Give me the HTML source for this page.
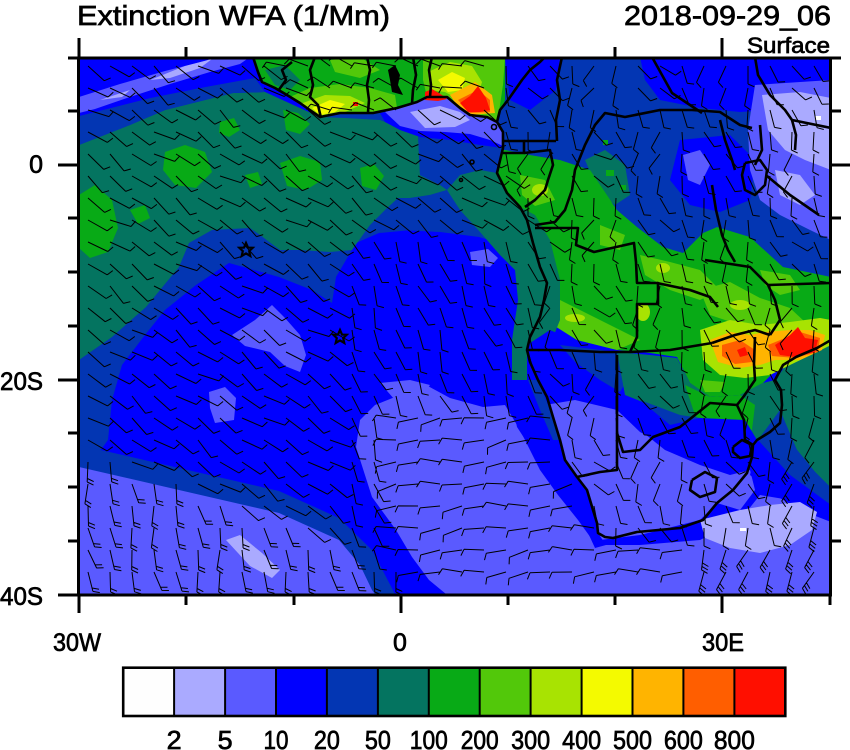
<!DOCTYPE html>
<html><head><meta charset="utf-8">
<style>
html,body{margin:0;padding:0;background:#fff;}
svg{display:block;font-family:"Liberation Sans",Arial,sans-serif;}
</style></head>
<body>
<svg id="s" width="850" height="750" viewBox="0 0 850 750" xmlns="http://www.w3.org/2000/svg">
<defs><clipPath id="clip"><rect x="79" y="57" width="752" height="537"/></clipPath></defs>
<rect width="850" height="750" fill="#fff"/>
<g clip-path="url(#clip)">
<rect x="79" y="57" width="752" height="537" fill="#0000FF"/>
<polygon fill="#0336B3" points="79,118 500,110 530,230 520,250 505,245 479,237 440,232 412,230 379,233 356,243 336,277 332,303 312,290 279,277 229,263 196,285 165,310 145,335 122,365 112,400 108,440 95,458 79,465"/>
<polygon fill="#047460" points="79,145 130,125 165,110 233,93 265,92 300,108 320,117 345,118 380,120 400,128 418,135 420,175 440,185 447,190 430,195 410,198 398,198 385,210 370,225 352,250 330,252 300,250 280,250 260,235 250,228 212,230 189,243 179,267 146,307 112,337 79,360"/>
<g fill="#08AA16">
<polygon points="79,195 95,185 112,200 118,228 108,252 90,258 79,248"/>
<polygon points="165,152 185,145 205,152 212,172 196,188 175,185 163,170"/>
<polygon points="280,163 300,156 320,162 322,180 306,190 287,186"/>
<polygon points="283,110 298,113 310,124 300,134 286,130"/>
<polygon points="360,168 374,164 384,176 376,190 362,186"/>
<polygon points="220,122 234,118 240,130 229,137 219,133"/>
<polygon points="130,210 145,205 150,218 138,224"/>
<polygon points="245,175 258,172 262,184 250,188"/>
</g>
<polygon fill="#0336B3" points="79,116 150,98 200,88 255,78 265,92 233,93 165,110 130,125 79,145"/>
<polygon fill="#0000FF" points="79,57 255,57 258,72 240,80 200,88 150,98 79,116"/>
<polygon fill="#5A5AFF" points="79,97 120,84 165,71 205,61 215,57 250,57 240,64 210,72 170,84 130,97 95,109 79,113"/>
<polygon fill="#AAAAFF" points="150,80 185,66 212,59 200,68 170,78"/>
<polygon fill="#AAAAFF" points="100,100 130,90 122,97"/>
<polygon fill="#0336B3" points="418,133 500,138 500,152 480,168 460,175 440,185 420,175"/>
<polygon fill="#0336B3" points="398,198 410,198 430,195 447,190 460,210 475,232 440,232 400,230 385,215"/>
<polygon fill="#0000FF" points="380,113 400,110 440,110 497,122 503,148 480,145 450,140 420,137 400,130 385,122"/>
<polygon fill="#5A5AFF" points="385,112 397,108 417,102 427,97 447,97 460,108 470,115 487,117 497,122 503,132 503,146 490,140 470,134 445,132 420,131 400,126"/>
<polygon fill="#AAAAFF" points="410,112 440,106 460,112 470,120 455,127 425,128"/>
<polygon fill="#5A5AFF" points="232,335 255,320 272,305 285,318 300,335 306,355 300,372 285,366 270,352 245,346"/>
<polygon fill="#5A5AFF" points="209,392 225,387 236,398 234,420 215,423 210,408"/>
<polygon fill="#5A5AFF" points="470,252 488,249 498,258 490,267 472,265"/>
<polygon fill="#5A5AFF" points="380,383 410,380 430,385 420,398 395,400"/>
<polygon fill="#0336B3" points="79,445 179,468 279,491 339,518 372,550 395,594 79,594"/>
<polygon fill="#5A5AFF" points="79,467 179,490 279,513 339,540 360,565 372,590 375,594 79,594"/>
<polygon fill="#AAAAFF" points="226,540 240,535 262,553 280,570 272,578 250,566"/>
<polygon fill="#5A5AFF" points="356,447 360,420 375,405 400,395 426,385 450,398 483,407 505,405 520,430 540,470 558,495 578,520 596,545 640,545 700,540 740,520 760,495 790,500 831,520 831,594 446,594 429,580 412,557 396,530 372,497"/>
<polygon fill="#0336B3" points="500,57 831,57 831,280 783,267 750,237 717,227 703,233 683,253 663,247 637,227 617,210 590,170 560,160 530,155 505,150 500,122"/>
<polygon fill="#0000FF" points="640,57 831,57 831,90 770,110 740,112 700,108 660,100 645,80"/>
<polygon fill="#0000FF" points="680,140 730,135 755,160 750,200 720,212 690,205 670,180"/>
<polygon fill="#0000FF" points="505,57 560,57 556,90 530,110 510,100"/>
<polygon fill="#5A5AFF" points="683,155 700,150 710,165 700,185 688,180"/>
<polygon fill="#5A5AFF" points="755,85 831,80 831,240 810,230 780,215 760,200 750,170 748,130"/>
<polygon fill="#AAAAFF" points="762,95 800,92 831,98 831,170 805,160 785,150 768,130"/>
<polygon fill="#AAAAFF" points="775,170 800,175 815,195 800,205 780,195"/>
<polygon fill="#047460" points="585,160 605,150 625,165 630,195 615,205 598,190"/>
<g fill="#08AA16">
<rect x="606" y="170" width="8" height="6"/><rect x="620" y="185" width="6" height="5"/><rect x="603" y="140" width="5" height="5"/>
</g>
<polygon fill="#08AA16" points="253,57 505,57 505,100 497,122 487,117 470,115 460,108 447,97 427,97 417,102 397,108 373,113 340,113 320,117 307,108 287,95 262,82"/>
<polygon fill="#047460" points="265,70 285,65 300,80 290,90 275,85"/>
<polygon fill="#52C80A" points="290,97 310,88 340,84 370,88 395,95 397,108 373,113 340,113 320,117 307,108"/>
<polygon fill="#52C80A" points="330,60 360,57 380,70 360,78 335,72"/>
<polygon fill="#A8E302" points="300,104 325,95 350,96 365,103 345,112 320,116"/>
<polygon fill="#F4FA00" points="312,108 330,100 345,104 335,112 320,115"/>
<rect x="353" y="102" width="5" height="4" fill="#FF0F00"/>
<polygon fill="#52C80A" points="423,57 505,57 503,85 500,105 497,122 487,117 470,115 460,108 447,97 427,97 423,80"/>
<polygon fill="#A8E302" points="428,72 450,62 472,66 482,82 478,96 460,100 445,92 430,90"/>
<polygon fill="#F4FA00" points="438,80 452,72 465,78 462,90 448,92"/>
<polygon fill="#FFB400" points="450,95 475,82 492,95 495,113 470,115 458,107"/>
<polygon fill="#FF5E00" points="458,100 478,90 490,100 490,112 470,113"/>
<polygon fill="#FF0F00" points="425,92 432,89 442,95 447,99 438,101 425,100"/>
<polygon fill="#FF0F00" points="460,103 470,96 478,86 486,98 490,110 480,112 468,112"/>
<polygon fill="#08AA16" points="505,150 530,155 560,160 590,170 617,210 637,227 663,247 683,253 703,233 717,227 750,237 783,267 831,277 831,340 817,348 783,363 763,383 740,395 710,397 690,383 677,357 650,353 617,350 577,340 550,323 540,300 540,267 533,243 527,220 520,207 507,193 497,173 503,150"/>
<g fill="#52C80A">
<polygon points="540,300 560,300 590,315 620,330 640,340 617,350 577,340 550,323"/>
<polygon points="640,255 670,262 700,270 720,290 700,300 670,290 645,275"/>
<polygon points="700,290 730,282 760,298 790,308 805,322 770,330 740,325 710,315"/>
<polygon points="520,175 545,180 555,200 535,206 522,195"/>
<polygon points="600,225 625,235 620,250 600,245"/>
<polygon points="760,270 790,275 800,290 780,295 765,285"/>
</g>
<g fill="#A8E302">
<ellipse cx="643" cy="312" rx="7" ry="9"/>
<ellipse cx="663" cy="268" rx="7" ry="5"/>
<ellipse cx="540" cy="190" rx="8" ry="6"/>
<ellipse cx="575" cy="318" rx="10" ry="4"/>
<ellipse cx="740" cy="305" rx="10" ry="5"/>
</g>
<polygon fill="#047460" points="520,207 535,215 550,240 560,280 560,320 550,345 535,360 532,385 512,385 512,340 518,300 515,270 500,255 480,232 460,210 447,190 460,175 480,170 497,173 507,193"/>
<polygon fill="#0000FF" points="527,345 550,330 577,342 617,352 630,375 620,400 590,405 560,405 538,385 527,383"/>
<polygon fill="#0336B3" points="560,345 617,352 630,375 620,392 600,380 575,362"/>
<polygon fill="#047460" points="617,352 650,355 677,358 690,383 710,397 740,395 763,383 775,380 780,400 780,420 757,440 740,440 710,430 680,420 650,405 625,395"/>
<polygon fill="#08AA16" points="685,385 710,397 740,395 755,405 752,430 730,440 710,432 695,415"/>
<polygon fill="#52C80A" points="700,380 725,382 720,392 705,392"/>
<polygon fill="#5A5AFF" points="545,405 575,400 617,410 640,430 665,450 700,465 730,475 750,470 755,490 740,510 717,503 700,520 640,535 600,540 580,510 560,470 550,430"/>
<polygon fill="#0000FF" points="617,410 660,420 700,418 745,420 757,440 752,460 735,470 700,460 670,448 640,432"/>
<polygon fill="#0336B3" points="640,400 680,415 700,418 670,425"/>
<polygon fill="#0000FF" points="507,380 538,380 553,417 560,440 565,460 577,477 587,490 593,510 598,533 606,545 595,548 583,522 565,500 545,470 517,427"/>
<polygon fill="#0336B3" points="528,380 538,380 553,417 560,440 553,440 540,410"/>
<polygon fill="#047460" points="775,380 790,360 817,348 831,340 831,488 815,472 797,450 785,430 780,410"/>
<polygon fill="#0336B3" points="780,410 797,450 815,472 831,488 831,505 810,492 790,475 770,455 758,440"/>
<polygon fill="#0000FF" points="758,440 790,475 831,505 831,522 800,510 770,492 750,475"/>
<polygon fill="#AAAAFF" points="700,520 740,510 770,505 800,502 817,512 812,530 790,545 760,553 730,548 705,538"/>
<rect x="740" y="528" width="6" height="3" fill="#fff"/>
<rect x="815" y="116" width="6" height="4" fill="#fff"/>
<polygon fill="#A8E302" points="700,330 730,320 760,325 790,322 820,318 831,320 831,345 817,352 790,365 770,375 745,378 720,375 703,360"/>
<polygon fill="#FFB400" points="710,340 730,332 750,335 765,332 790,330 810,330 825,335 822,350 800,360 775,360 760,365 740,368 718,362"/>
<polygon fill="#FF5E00" points="722,345 740,340 755,350 752,362 735,364 722,356"/>
<polygon fill="#FF5E00" points="768,345 800,332 820,338 818,352 795,358 772,356"/>
<polygon fill="#FF0F00" points="775,345 790,335 798,327 805,338 818,340 815,352 795,357 780,355"/>
<polygon fill="#FF0F00" points="737,350 745,347 748,355 740,357"/>
<g fill="none" stroke="#000" stroke-width="2.6" stroke-linejoin="round">
<polyline points="253,57 258,72 262,82 275,88 287,95 300,103 307,108 320,117 340,113 373,113 397,108 417,102 427,97 447,97 460,108 470,115 487,117 497,122 503,132 503,148 497,173 507,193 520,207 527,220 533,243 540,267 547,283 544,300 540,317 530,337 527,350 530,362 538,380 547,397 553,417 560,440 565,460 577,477 587,490 593,510 597,523 598,533 605,537 613,538 637,532 680,528 703,520 717,503 733,490 747,473 752,457 753,445 757,440 770,432 780,423 782,405 781,390 775,380 783,365 796,357 817,348 831,340"/>
<polyline points="321,118 318,105 310,97 313,85 310,70 315,57"/>
<polyline points="278,91 286,80 282,70 292,62"/>
<polyline points="368,112 369,100 367,85 370,70 367,57"/>
<polyline points="412,104 413,90 416,75 413,57"/>
<polyline points="430,97 431,85 429,70 432,57"/>
<polyline points="497,122 500,110 508,100 515,90 522,80 530,70 540,62 545,57"/>
<polyline points="503,141 524,141 524,153 503,153"/>
<polyline points="524,141 545,141 556,141"/>
<polyline points="524,153 550,150 553,165 548,180 545,190 535,200 525,207"/>
<polyline points="535,225 555,222 565,210 572,190 575,170 585,145 595,125 605,113 625,117 660,110 692,110 720,112 740,125 752,128"/>
<polyline points="562,57 557,80 560,100 556,120 557,141"/>
<polyline points="652,57 672,93 702,113"/>
<polyline points="755,57 758,75 770,95 785,110 792,120 831,128"/>
<polyline points="792,120 796,135 795,150"/>
<polyline points="760,125 762,150 755,165"/>
<polyline points="745,163 760,160 767,170 765,185 755,195 745,190 742,175 745,163"/>
<polyline points="767,176 790,195 819,215"/>
<polyline points="720,120 725,140 732,160 735,170"/>
<polyline points="712,185 716,210 722,235 728,250 735,262"/>
<polyline points="535,228 578,228 576,245 594,252 634,243 636,262 637,283 658,283 658,304 637,304 637,337 630,352"/>
<polyline points="527,350 560,350 600,352 630,352 670,350 700,345 712,343"/>
<polyline points="657,283 690,290 710,297 718,307"/>
<polyline points="705,260 750,267 768,285 775,300 780,320 770,335"/>
<polyline points="768,285 831,283"/>
<polyline points="712,343 735,335 755,330 770,335"/>
<polyline points="755,337 754,364 755,380 744,396 737,405"/>
<polyline points="617,355 617,400 617,433"/>
<polyline points="617,433 623,452 640,450 653,437 680,427 710,403 737,405"/>
<polyline points="577,477 600,472 617,470 617,433"/>
<polyline points="692,480 705,472 717,478 715,492 700,497 690,490 692,480"/>
<polyline points="733,447 742,440 752,445 750,456 740,458 733,452 733,447"/>
<polyline points="737,405 744,420 745,440"/>
<polyline points="753,445 745,440"/>
</g>
<polygon fill="#000" points="388,70 395,65 400,75 398,85 403,95 392,92 390,80"/>
<g fill="none" stroke="#000" stroke-width="1.6">
<circle cx="494" cy="127" r="2.5"/><circle cx="472" cy="162" r="2"/><circle cx="461" cy="180" r="1.5"/>
</g>
<g id="barbs"><path id="bp" d="" fill="none" stroke="#000" stroke-width="1"/></g>
<g fill="none" stroke="#000" stroke-width="2.2" stroke-linejoin="miter">
<polygon points="246.0,243.0 248.0,247.6 252.7,247.8 249.2,251.1 250.3,256.0 246.0,253.4 241.7,256.0 242.8,251.1 239.3,247.8 244.0,247.6"/>
<polygon points="340.0,330.0 342.0,334.6 346.7,334.8 343.2,338.1 344.3,343.0 340.0,340.4 335.7,343.0 336.8,338.1 333.3,334.8 338.0,334.6"/>
</g>
</g>
<rect x="78.5" y="58" width="752" height="537" fill="none" stroke="#000" stroke-width="3"/>
<g stroke="#000" stroke-width="3">
<line x1="79" y1="57" x2="79" y2="38"/><line x1="401" y1="57" x2="401" y2="38"/><line x1="722" y1="57" x2="722" y2="38"/>
<line x1="186" y1="57" x2="186" y2="47"/><line x1="294" y1="57" x2="294" y2="47"/><line x1="508" y1="57" x2="508" y2="47"/><line x1="615" y1="57" x2="615" y2="47"/>
<line x1="79" y1="595" x2="79" y2="613"/><line x1="401" y1="595" x2="401" y2="613"/><line x1="722" y1="595" x2="722" y2="613"/>
<line x1="186" y1="595" x2="186" y2="605"/><line x1="294" y1="595" x2="294" y2="605"/><line x1="508" y1="595" x2="508" y2="605"/><line x1="615" y1="595" x2="615" y2="605"/><line x1="830" y1="595" x2="830" y2="605"/>
<line x1="79" y1="165" x2="58" y2="165"/><line x1="79" y1="380" x2="58" y2="380"/><line x1="79" y1="595" x2="58" y2="595"/>
<line x1="79" y1="58" x2="68" y2="58"/><line x1="79" y1="111" x2="68" y2="111"/><line x1="79" y1="218" x2="68" y2="218"/><line x1="79" y1="272" x2="68" y2="272"/><line x1="79" y1="326" x2="68" y2="326"/><line x1="79" y1="433" x2="68" y2="433"/><line x1="79" y1="487" x2="68" y2="487"/><line x1="79" y1="541" x2="68" y2="541"/>
<line x1="830" y1="165" x2="850" y2="165"/><line x1="830" y1="380" x2="850" y2="380"/>
<line x1="830" y1="58" x2="841" y2="58"/><line x1="830" y1="111" x2="841" y2="111"/><line x1="830" y1="218" x2="841" y2="218"/><line x1="830" y1="272" x2="841" y2="272"/><line x1="830" y1="326" x2="841" y2="326"/><line x1="830" y1="433" x2="841" y2="433"/><line x1="830" y1="487" x2="841" y2="487"/><line x1="830" y1="541" x2="841" y2="541"/>
</g>
<g stroke="#000" stroke-width="0.7">
<text x="77" y="25" font-size="28" textLength="313" lengthAdjust="spacingAndGlyphs">Extinction WFA (1/Mm)</text>
<text x="624" y="25" font-size="28" textLength="207" lengthAdjust="spacingAndGlyphs">2018-09-29_06</text>
<text x="747" y="53" font-size="22" textLength="83" lengthAdjust="spacingAndGlyphs">Surface</text>
</g>
<g font-size="25" stroke="#000" stroke-width="0.7">
<text x="43" y="173" text-anchor="end">0</text>
<text x="43" y="390" text-anchor="end" textLength="43" lengthAdjust="spacingAndGlyphs">20S</text>
<text x="43" y="605" text-anchor="end" textLength="43" lengthAdjust="spacingAndGlyphs">40S</text>
<text x="53" y="651" textLength="48" lengthAdjust="spacingAndGlyphs">30W</text>
<text x="400" y="651" text-anchor="middle">0</text>
<text x="702" y="651" textLength="42" lengthAdjust="spacingAndGlyphs">30E</text>
</g>
<g stroke="none">
<rect x="123.2" y="667.7" width="50.93" height="48.3" fill="#FEFEFE"/>
<rect x="174.1" y="667.7" width="50.93" height="48.3" fill="#AAAAFF"/>
<rect x="225.1" y="667.7" width="50.93" height="48.3" fill="#5A5AFF"/>
<rect x="276.0" y="667.7" width="50.93" height="48.3" fill="#0000FF"/>
<rect x="326.9" y="667.7" width="50.93" height="48.3" fill="#0336B3"/>
<rect x="377.9" y="667.7" width="50.93" height="48.3" fill="#047460"/>
<rect x="428.8" y="667.7" width="50.93" height="48.3" fill="#08AA16"/>
<rect x="479.7" y="667.7" width="50.93" height="48.3" fill="#52C80A"/>
<rect x="530.6" y="667.7" width="50.93" height="48.3" fill="#A8E302"/>
<rect x="581.6" y="667.7" width="50.93" height="48.3" fill="#F4FA00"/>
<rect x="632.5" y="667.7" width="50.93" height="48.3" fill="#FFB400"/>
<rect x="683.4" y="667.7" width="50.93" height="48.3" fill="#FF5E00"/>
<rect x="734.4" y="667.7" width="50.93" height="48.3" fill="#FF0F00"/>
</g>
<g stroke="#000" stroke-width="2">
<line x1="174.1" y1="668" x2="174.1" y2="716"/><line x1="225.1" y1="668" x2="225.1" y2="716"/><line x1="276.0" y1="668" x2="276.0" y2="716"/><line x1="326.9" y1="668" x2="326.9" y2="716"/><line x1="377.9" y1="668" x2="377.9" y2="716"/><line x1="428.8" y1="668" x2="428.8" y2="716"/><line x1="479.7" y1="668" x2="479.7" y2="716"/><line x1="530.6" y1="668" x2="530.6" y2="716"/><line x1="581.6" y1="668" x2="581.6" y2="716"/><line x1="632.5" y1="668" x2="632.5" y2="716"/><line x1="683.4" y1="668" x2="683.4" y2="716"/><line x1="734.4" y1="668" x2="734.4" y2="716"/>
</g>
<rect x="123.2" y="667.7" width="662.1" height="48.3" fill="none" stroke="#000" stroke-width="2.6"/>
<g font-size="26" text-anchor="middle" stroke="#000" stroke-width="0.7">
<text x="174.1" y="749" textLength="15" lengthAdjust="spacingAndGlyphs">2</text>
<text x="225.1" y="749" textLength="15" lengthAdjust="spacingAndGlyphs">5</text>
<text x="276.0" y="749" textLength="25" lengthAdjust="spacingAndGlyphs">10</text>
<text x="326.9" y="749" textLength="26" lengthAdjust="spacingAndGlyphs">20</text>
<text x="377.9" y="749" textLength="26" lengthAdjust="spacingAndGlyphs">50</text>
<text x="428.8" y="749" textLength="38" lengthAdjust="spacingAndGlyphs">100</text>
<text x="479.7" y="749" textLength="38" lengthAdjust="spacingAndGlyphs">200</text>
<text x="530.6" y="749" textLength="39" lengthAdjust="spacingAndGlyphs">300</text>
<text x="581.6" y="749" textLength="39" lengthAdjust="spacingAndGlyphs">400</text>
<text x="632.5" y="749" textLength="39" lengthAdjust="spacingAndGlyphs">500</text>
<text x="683.4" y="749" textLength="39" lengthAdjust="spacingAndGlyphs">600</text>
<text x="734.4" y="749" textLength="41" lengthAdjust="spacingAndGlyphs">800</text>
</g>
</svg>
<script>
(function(){
  function coastX(y){
    if(y<150) return 505;
    if(y<220) return 497+(y-150)*0.45;
    if(y<380) return 532;
    if(y<540) return 540+(y-380)*0.37;
    return 99999;
  }
  function wCoastY(x){
    if(x<255) return 0;
    if(x<320) return 57+(x-255)*0.92;
    if(x<400) return 113;
    return 105;
  }
  var d='';
  for(var y=66;y<592;y+=22){
    for(var x=88;x<830;x+=22){
      var s=Math.sin(x*0.071+y*0.043)*12+Math.cos(x*0.031-y*0.057)*6;
      var a,n=1,L=20;
      if(x>255 && x<505 && y<wCoastY(x)){a=200+s;}
      else if(y<540 && x>coastX(y) && !(x>778 && y>345)){a=80+Math.sin(x*0.05)*Math.cos(y*0.04)*45+s;L=18;}
      else if(x>690 && y>440){a=115+s;n=3;}
      else if(x>775 && y>340){a=100+s;}
      else if(x<400 && y>450+(x-79)*0.35){a=82+s;n=2;}
      else if(x>=380 && y>400){a=175+s;}
      else if(x>330 && y>220){a=70+s;}
      else {a=35+s;L=22;}
      var r=a*Math.PI/180, c=Math.cos(r), si=Math.sin(r);
      var ex=x+L*c, ey=y+L*si;
      d+='M'+x.toFixed(1)+' '+y.toFixed(1)+'L'+ex.toFixed(1)+' '+ey.toFixed(1);
      for(var i=0;i<n;i++){
        var bx=ex-3.5*i*c, by=ey-3.5*i*si;
        var fr=r-1.15;
        d+='M'+bx.toFixed(1)+' '+by.toFixed(1)+'l'+(7*Math.cos(fr)).toFixed(1)+' '+(7*Math.sin(fr)).toFixed(1);
      }
    }
  }
  document.getElementById('bp').setAttribute('d',d);
})();
</script>
</body></html>
